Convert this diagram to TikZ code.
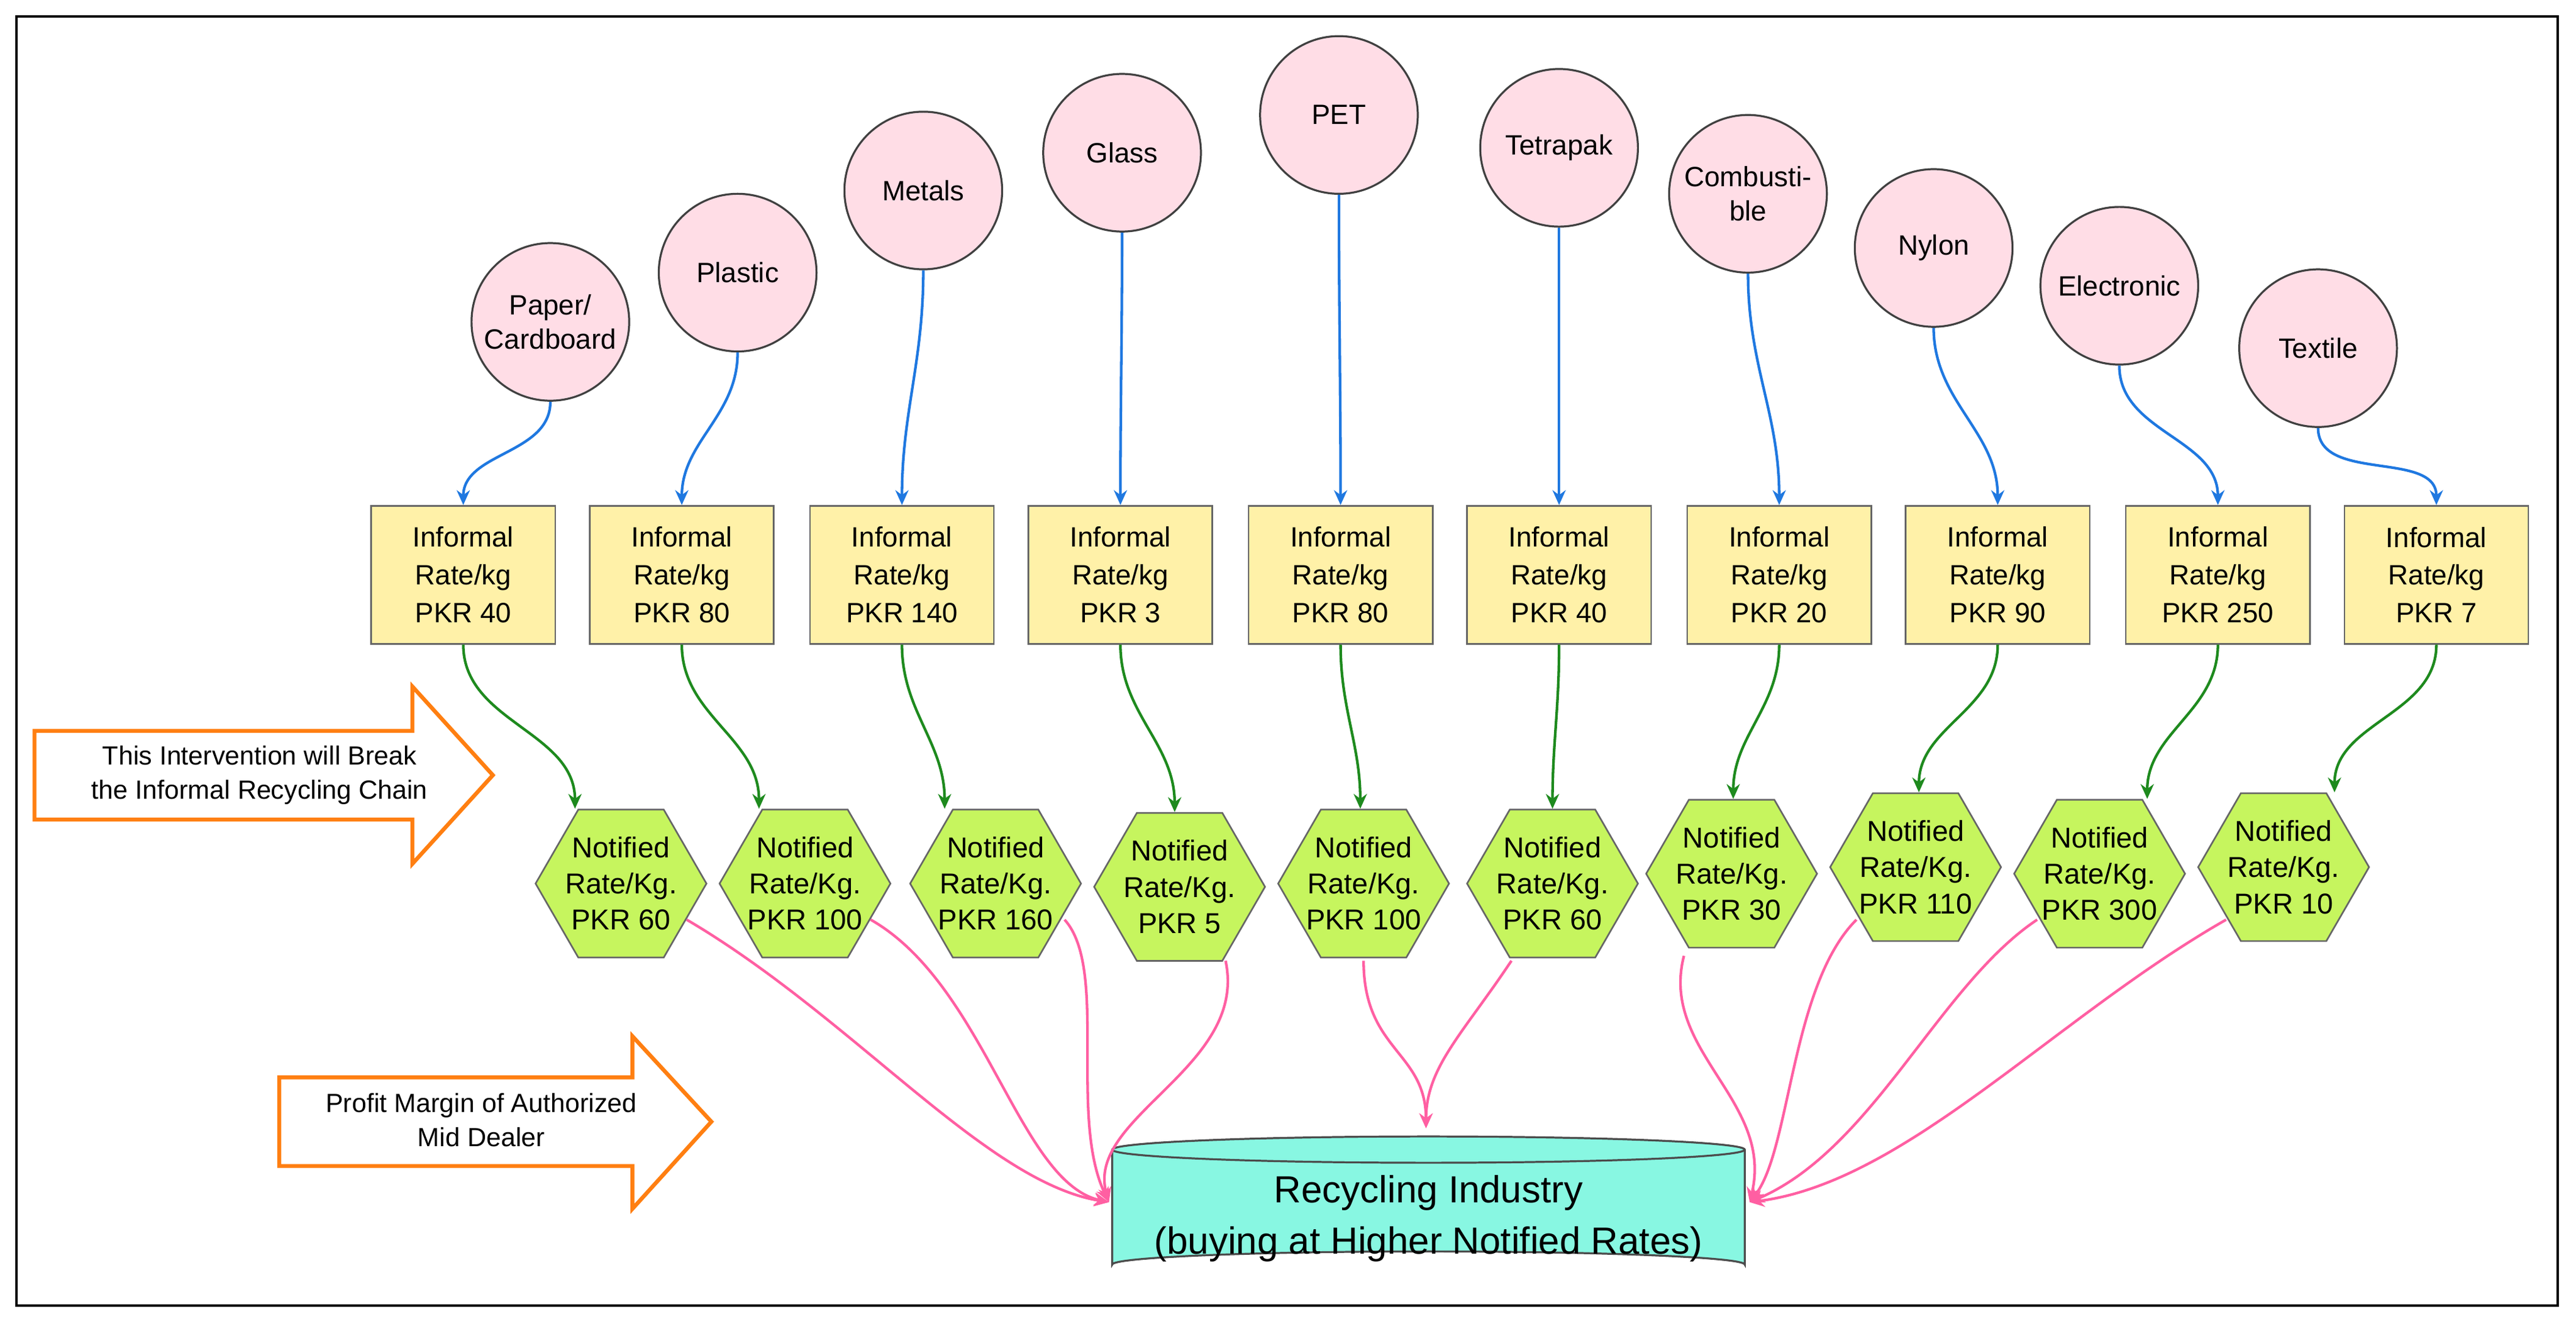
\documentclass[tikz,border=0pt]{standalone}
\usepackage{fontspec}
\setmainfont{Liberation Sans}
\usetikzlibrary{shapes.geometric,arrows.meta,calc}
\definecolor{cpink}{HTML}{FFDDE6}
\definecolor{cyel}{HTML}{FFF1A8}
\definecolor{clime}{HTML}{C6F55E}
\definecolor{ccyan}{HTML}{88F7E2}
\definecolor{cblue}{HTML}{1F78E0}
\definecolor{cgreen}{HTML}{1E8A1E}
\definecolor{cmag}{HTML}{FF5FA2}
\definecolor{corg}{HTML}{FF7F11}
\begin{document}
\begin{tikzpicture}[x=1pt,y=-1pt,
 circ/.style={circle,draw=black!75,line width=1.2pt,fill=cpink,minimum size=96pt,inner sep=0pt,align=center,font=\fontsize{17}{21}\selectfont},
 box/.style={rectangle,draw=black!60,line width=1pt,fill=cyel,minimum width=112pt,minimum height=84pt,align=center,font=\fontsize{17}{23}\selectfont},
 hexa/.style={regular polygon,regular polygon sides=6,draw=black!60,line width=1pt,fill=clime,minimum size=104pt,inner sep=0pt},
 htxt/.style={align=center,font=\fontsize{17.5}{22}\selectfont},
 bl/.style={draw=cblue,line width=1.6pt,-{Stealth[length=9pt,width=8pt]}},
 gr/.style={draw=cgreen,line width=1.6pt,-{Stealth[length=9pt,width=8pt]}},
 pk/.style={draw=cmag,line width=1.6pt,-{Stealth[length=9pt,width=8pt]}},
 oarr/.style={draw=corg,line width=2.4pt,fill=white,line join=miter},
 otxt/.style={align=center,font=\fontsize{16}{21}\selectfont}
]
\useasboundingbox (0,0) rectangle (1568,803);
\draw[line width=1.5pt] (10,10) rectangle (1557,795);

\node[circ] (c1) at (335,196) {Paper/\\Cardboard};
\node[circ] (c2) at (449,166) {Plastic};
\node[circ] (c3) at (562,116) {Metals};
\node[circ] (c4) at (683,93) {Glass};
\node[circ] (c5) at (815,70) {PET};
\node[circ] (c6) at (949,90) {Tetrapak};
\node[circ] (c7) at (1064,118) {Combusti-\\ble};
\node[circ] (c8) at (1177,151) {Nylon};
\node[circ] (c9) at (1290,174) {Electronic};
\node[circ] (c10) at (1411,212) {Textile};

\foreach \i/\x/\r in {1/282/40,2/415/80,3/549/140,4/682/3,5/816/80,6/949/40,7/1083/20,8/1216/90,9/1350/250,10/1483/7}
  \node[box] (b\i) at (\x,350) {Informal\\Rate/kg\\PKR \r};

\foreach \i/\x/\y/\r in {1/378/538/60,2/490/538/100,3/606/538/160,4/718/540/5,5/830/538/100,6/945/538/60,7/1054/532/30,8/1166/528/110,9/1278/532/300,10/1390/528/10}{
  \node[hexa] (h\i) at (\x,\y) {};
  \node[htxt] at (\x,\y) {Notified\\Rate/Kg.\\PKR \r};
}

\foreach \i in {1,...,10}
  \draw[bl] (c\i.south) to[out=-90,in=90] (b\i.north);

\foreach \i/\s in {1/-28,2/-28,3/-31,4/-3,5/-2,6/0,7/1,8/2,9/29,10/31}
  \draw[gr] (b\i.south) to[out=-90,in=90] ([xshift=\s pt]h\i.north);

% cylinder
\fill[ccyan] (677,700) -- (677,770) arc[start angle=180,end angle=360,x radius=192.5,y radius=8] -- (1062,700) -- cycle;
\draw[black!70,line width=1.2pt] (677,700) -- (677,770) arc[start angle=180,end angle=360,x radius=192.5,y radius=8] -- (1062,700);
\draw[black!70,line width=1.2pt,fill=ccyan] (869.5,700) ellipse[x radius=192.5,y radius=8];
\node[draw=none,minimum width=385pt,minimum height=78pt,align=center,font=\fontsize{23}{31}\selectfont] (ri) at (869.5,742) {Recycling Industry\\(buying at Higher Notified Rates)};
\coordinate (rl) at (675,732);
\coordinate (rr) at (1065,732);
\coordinate (rt) at (868,687);

\draw[pk] ([shift={(40,22)}]h1.center) .. controls (520,620) and (600,720) .. (rl);
\draw[pk] ([shift={(40,22)}]h2.center) .. controls (600,600) and (620,720) .. (rl);
\draw[pk] ([shift={(42,22)}]h3.center) .. controls (675,590) and (650,680) .. (rl);
\draw[pk] ([shift={(28,45)}]h4.center) .. controls (760,650) and (660,680) .. (rl);
\draw[pk] ([shift={(0,47)}]h5.center) .. controls (830,640) and (868,640) .. (rt);
\draw[pk] ([shift={(-25,47)}]h6.center) .. controls (890,630) and (868,650) .. (rt);
\draw[pk] ([shift={(-29,50)}]h7.center) .. controls (1010,640) and (1080,670) .. (rr);
\draw[pk] ([shift={(-36,32)}]h8.center) .. controls (1090,600) and (1090,700) .. (rr);
\draw[pk] ([shift={(-38,28)}]h9.center) .. controls (1180,600) and (1140,700) .. (rr);
\draw[pk] ([shift={(-35,32)}]h10.center) .. controls (1250,620) and (1160,720) .. (rr);

\draw[oarr] (21,445) -- (251,445) -- (251,418) -- (300,472) -- (251,526) -- (251,499) -- (21,499) -- cycle;
\node[otxt] (a1) at (158,472) {This Intervention will Break\\the Informal Recycling Chain};
\draw[oarr] (170,656) -- (385,656) -- (385,631) -- (433,683) -- (385,736) -- (385,710) -- (170,710) -- cycle;
\node[otxt] (a2) at (293,682) {Profit Margin of Authorized\\Mid Dealer};
\end{tikzpicture}
\end{document}
